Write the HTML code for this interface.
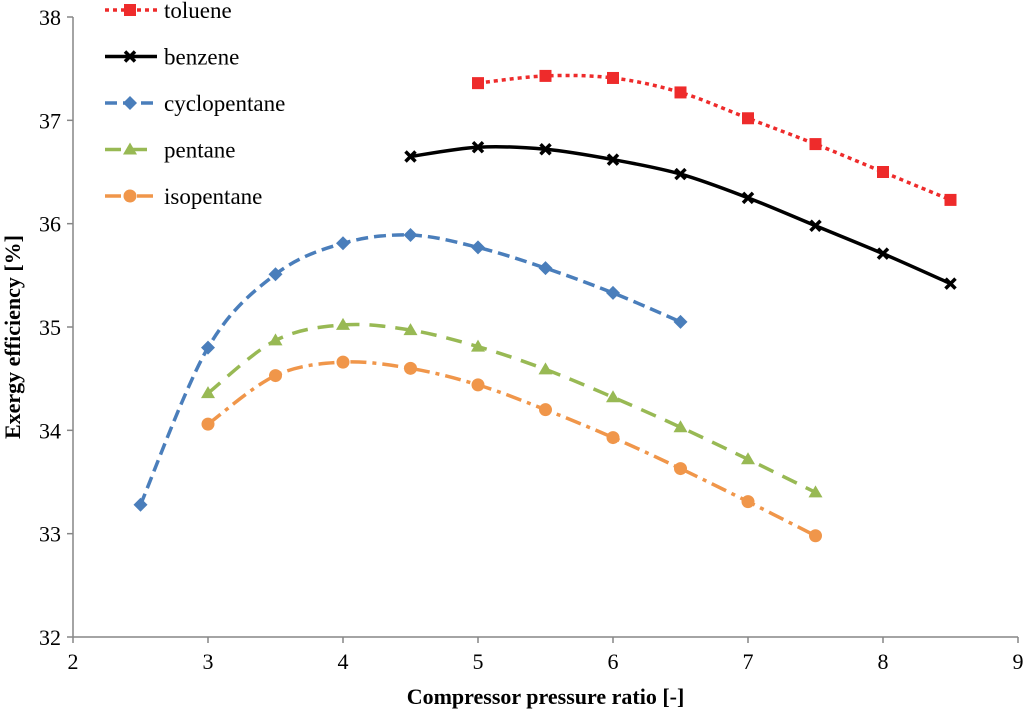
<!DOCTYPE html>
<html><head><meta charset="utf-8"><style>
body{margin:0;background:#fff}
svg{display:block}
svg text{font-family:"Liberation Serif","Times New Roman",serif}
</style></head><body>
<svg id="c" width="1024" height="715" viewBox="0 0 1024 715"></svg>
<script>
const xTicks=[2,3,4,5,6,7,8,9];
const yTicks=[32,33,34,35,36,37,38];
const seriesNames=["toluene","benzene","cyclopentane","pentane","isopentane"];
const tolueneX=[5,5.5,6,6.5,7,7.5,8,8.5];
const tolueneY=[37.36,37.43,37.41,37.27,37.02,36.77,36.50,36.23];
const benzeneX=[4.5,5,5.5,6,6.5,7,7.5,8,8.5];
const benzeneY=[36.65,36.74,36.72,36.62,36.48,36.25,35.98,35.71,35.42];
const cycloX=[2.5,3,3.5,4,4.5,5,5.5,6,6.5];
const cycloY=[33.28,34.80,35.51,35.81,35.89,35.77,35.57,35.33,35.05];
const pentaneX=[3,3.5,4,4.5,5,5.5,6,6.5,7,7.5];
const pentaneY=[34.36,34.87,35.02,34.97,34.81,34.59,34.32,34.03,33.72,33.40];
const isoX=[3,3.5,4,4.5,5,5.5,6,6.5,7,7.5];
const isoY=[34.06,34.53,34.66,34.60,34.44,34.20,33.93,33.63,33.31,32.98];

const NS="http://www.w3.org/2000/svg";
const svg=document.getElementById('c');
const L=73,R=1018,T=17,B=637;
const sx=v=>L+(v-2)/(9-2)*(R-L);
const sy=v=>B-(v-32)/(38-32)*(B-T);
function el(t,a,p){const e=document.createElementNS(NS,t);for(const k in a)e.setAttribute(k,a[k]);if(t==='text')e.setAttribute('font-family','Liberation Serif, serif');(p||svg).appendChild(e);return e;}

let ax=el('line',{x1:L,y1:T,x2:L,y2:B,stroke:'#868686','stroke-width':1.5});


let axx=el('line',{x1:L,y1:B,x2:R,y2:B,stroke:'#868686','stroke-width':1.5});


xTicks.forEach(v=>{
  el('line',{x1:sx(v),y1:B,x2:sx(v),y2:B+6,stroke:'#868686','stroke-width':1.5});
  const t=el('text',{x:sx(v),y:B+32,'text-anchor':'middle','font-size':22,fill:'#000'});
  t.textContent=v;
  
  
});
yTicks.forEach(v=>{
  el('line',{x1:L-6,y1:sy(v),x2:L,y2:sy(v),stroke:'#868686','stroke-width':1.5});
  const t=el('text',{x:L-12,y:sy(v)+8,'text-anchor':'end','font-size':22,fill:'#000'});
  t.textContent=v;
  
  
});
let xt=el('text',{x:(L+R)/2,y:704,'text-anchor':'middle','font-size':22,'font-weight':'bold'});
xt.textContent='Compressor pressure ratio [-]';


let yt=el('text',{x:0,y:0,'text-anchor':'middle','font-size':22,'font-weight':'bold',transform:`translate(20,${(T+B)/2+10}) rotate(-90)`});
yt.textContent='Exergy efficiency [%]';



const styles=[
 {c:'#ee2b2b',d:'4 4',m:'square'},
 {c:'#000000',d:'',m:'x'},
 {c:'#4a7ebb',d:'12 6',m:'diamond'},
 {c:'#98b954',d:'16 10',m:'tri'},
 {c:'#f0964a',d:'16 6 4 6',m:'circle'}];
const data=[[tolueneX,tolueneY],[benzeneX,benzeneY],[cycloX,cycloY],[pentaneX,pentaneY],[isoX,isoY]];

function pathFor(pts){
  let d=`M${pts[0][0]},${pts[0][1]}`;
  for(let i=0;i<pts.length-1;i++){
    const p0=pts[i-1]||pts[i],p1=pts[i],p2=pts[i+1],p3=pts[i+2]||p2;
    const c1=[p1[0]+(p2[0]-p0[0])/6,p1[1]+(p2[1]-p0[1])/6];
    const c2=[p2[0]-(p3[0]-p1[0])/6,p2[1]-(p3[1]-p1[1])/6];
    d+=` C${c1[0]},${c1[1]} ${c2[0]},${c2[1]} ${p2[0]},${p2[1]}`;
  }
  return d;
}
function marker(g,type,x,y,c){
  let m;
  if(type==='square')m=el('rect',{x:x-6,y:y-6,width:12,height:12,fill:c},g);
  else if(type==='x'){m=el('path',{d:`M${x-5},${y-5}L${x+5},${y+5}M${x+5},${y-5}L${x-5},${y+5}`,stroke:c,'stroke-width':3.5},g);}
  else if(type==='diamond')m=el('path',{d:`M${x},${y-7}L${x+7},${y}L${x},${y+7}L${x-7},${y}Z`,fill:c},g);
  else if(type==='tri')m=el('path',{d:`M${x},${y-7}L${x+7},${y+5}L${x-7},${y+5}Z`,fill:c},g);
  else m=el('circle',{cx:x,cy:y,r:6.5,fill:c},g);
  return m;
}
data.forEach((s,i)=>{
  const st=styles[i];
  const g=el('g',{});
  
  
  const pts=s[0].map((x,j)=>[sx(x),sy(s[1][j])]);
  el('path',{d:pathFor(pts),fill:'none',stroke:st.c,'stroke-width':3.5,'stroke-dasharray':st.d},g);
  pts.forEach(p=>{
    const m=marker(g,st.m,p[0],p[1],st.c);
    
    
  });
  const ly=10+i*46.5;
  const lg=el('g',{});
  
  
  el('line',{x1:105,y1:ly,x2:157,y2:ly,stroke:st.c,'stroke-width':3.5,'stroke-dasharray':st.d},lg);
  marker(lg,st.m,130,ly,st.c);
  const t=el('text',{x:164,y:ly+8,'font-size':23,fill:'#000'},lg);
  t.textContent=seriesNames[i];
});
</script>
</body></html>
